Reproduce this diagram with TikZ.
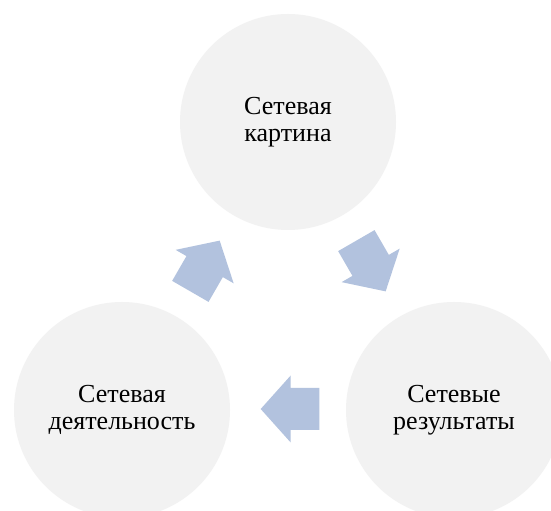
\documentclass[tikz,border=0pt]{standalone}
\usepackage{fontspec}
\setmainfont{Liberation Serif}
\definecolor{circfill}{HTML}{F2F2F2}
\definecolor{arrowfill}{RGB}{178,194,222}
\begin{document}
\begin{tikzpicture}[x=0.75pt,y=0.75pt,
  bubble/.style={circle,fill=circfill,draw=none,minimum size=162pt,inner sep=0pt,align=center,
    font=\fontsize{19.5}{20}\selectfont},
  blockarrow/.style={fill=arrowfill,draw=none}]
\path[use as bounding box,clip] (0,0) rectangle (551,511);
\fill[white] (0,0) rectangle (551,511);
\node[bubble] (top) at (288,389) {Сетевая\\картина};
\node[bubble] (left) at (122,101) {Сетевая\\деятельность};
\node[bubble] (right) at (454,101) {Сетевые\\результаты};
\foreach \px/\py/\ang in {205/245/60, 371/245/-60, 290/102/180}{
  \fill[blockarrow,shift={(\px,\py)},rotate=\ang]
    (-29.3,21) -- (-0.7,21) -- (-0.7,33.5) -- (29.3,0) -- (-0.7,-33.5) -- (-0.7,-21) -- (-29.3,-21) -- cycle;
}
\end{tikzpicture}
\end{document}
